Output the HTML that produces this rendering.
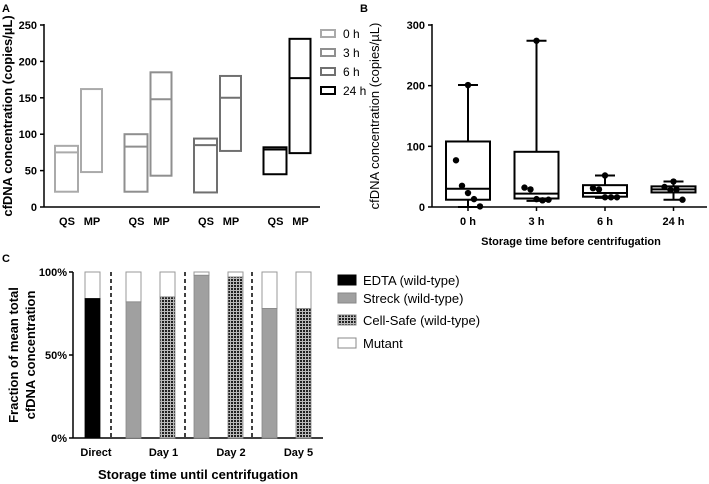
<!DOCTYPE html>
<html><head><meta charset="utf-8"><style>
html,body{margin:0;padding:0;background:#fff;}
svg{display:block;font-family:"Liberation Sans",Arial,sans-serif;}
.b{font-weight:bold;}
</style></head><body>
<svg id="s" width="709" height="484" viewBox="0 0 709 484" xmlns="http://www.w3.org/2000/svg">
<defs>
<pattern id="chk" width="3" height="3" patternUnits="userSpaceOnUse">
<rect width="3" height="3" fill="#bbb"/><rect width="2" height="2" fill="#222"/>
</pattern>
</defs>
<g id="A"></g>
<g id="B"></g>
<g id="C"></g>
</svg>
<script>
// Panel A data
const aGroups = ['0 h','3 h','6 h','24 h'];
const aQSmin = [21,21,20,45];
const aQSmax = [84,100,94,82];
const aQSmean = [75,83,85,79];
const aMPmin = [48,43,77,74];
const aMPmax = [162,185,180,231];
const aMPmean = [null,148,150,177];
const aTicks = [0,50,100,150,200,250];
// Panel B data
const bCats = ['0 h','3 h','6 h','24 h'];
const bMin = [0,10,15,12];
const bQ1 = [12,14,17,24];
const bMed = [30,22,23,29];
const bQ3 = [108,91,36,34];
const bMax = [201,274,52,42];
const bPoints = [[201,77,35,23,13,1],[274,32,29,13,11,12],[52,31,29,16,16,16],[42,33,28,29,12]];
const bTicks = [0,100,200,300];
// Panel C data
const cCats = ['Direct','Day 1','Day 2','Day 5'];
const cEdta = [84];
const cStreck = [82,98,78];
const cCellSafe = [85,97,78];
const cTicks = [0,50,100];
const cLegend = ['EDTA (wild-type)','Streck (wild-type)','Cell-Safe (wild-type)','Mutant'];

const NS='http://www.w3.org/2000/svg';
function mk(p,tag,attrs,txt){const e=document.createElementNS(NS,tag);for(const k in attrs)e.setAttribute(k,attrs[k]);if(txt!==undefined)e.textContent=txt;p.appendChild(e);return e;}

// ---- Panel A
const A=document.getElementById('A');
const ay=v=>207-v*(182/250);
let t=mk(A,'text',{x:2,y:12,'font-size':11,class:'b'},'A');
t=mk(A,'line',{x1:44,y1:24,x2:44,y2:207,stroke:'#000','stroke-width':1.5});
t=mk(A,'line',{x1:44,y1:207,x2:320,y2:207,stroke:'#000','stroke-width':1.5});
aTicks.forEach(v=>{mk(A,'line',{x1:40,x2:44,y1:ay(v),y2:ay(v),stroke:'#000','stroke-width':1.5});
 t=mk(A,'text',{x:37,y:ay(v)+4,'font-size':11,class:'b','text-anchor':'end'},v);});
t=mk(A,'text',{transform:'translate(12,116) rotate(-90)','font-size':13,class:'b','text-anchor':'middle'},'cfDNA concentration (copies/µL)');
const aCols=['#aaa','#8f8f8f','#707070','#000'];
aGroups.forEach((g,i)=>{
 const x0=55+i*69.5;
 const c=aCols[i];
 t=mk(A,'rect',{x:x0,y:ay(aQSmax[i]),width:23,height:ay(aQSmin[i])-ay(aQSmax[i]),fill:'none',stroke:c,'stroke-width':2});
 mk(A,'line',{x1:x0,x2:x0+23,y1:ay(aQSmean[i]),y2:ay(aQSmean[i]),stroke:c,'stroke-width':2});
 t=mk(A,'rect',{x:x0+26,y:ay(aMPmax[i]),width:21,height:ay(aMPmin[i])-ay(aMPmax[i]),fill:'none',stroke:c,'stroke-width':2});
 if(aMPmean[i]!==null)mk(A,'line',{x1:x0+26,x2:x0+47,y1:ay(aMPmean[i]),y2:ay(aMPmean[i]),stroke:c,'stroke-width':2});
 t=mk(A,'text',{x:x0+12,y:225,'font-size':11,class:'b','text-anchor':'middle'},'QS');
 t=mk(A,'text',{x:x0+37,y:225,'font-size':11,class:'b','text-anchor':'middle'},'MP');
 t=mk(A,'rect',{x:321,y:30+i*19,width:14,height:7,fill:'none',stroke:c,'stroke-width':2});
 t=mk(A,'text',{x:343,y:38+i*19,'font-size':12},g);
});

// ---- Panel B
const B=document.getElementById('B');
const by=v=>207-v*(182/300);
t=mk(B,'text',{x:360,y:12,'font-size':11,class:'b'},'B');
t=mk(B,'line',{x1:432,y1:24,x2:432,y2:207,stroke:'#000','stroke-width':1.5});
t=mk(B,'line',{x1:432,y1:207,x2:707,y2:207,stroke:'#000','stroke-width':1.5});
bTicks.forEach(v=>{mk(B,'line',{x1:428,x2:432,y1:by(v),y2:by(v),stroke:'#000','stroke-width':1.5});
 t=mk(B,'text',{x:425,y:by(v)+4,'font-size':11,class:'b','text-anchor':'end'},v);});
t=mk(B,'text',{transform:'translate(379,116) rotate(-90)','font-size':13,'text-anchor':'middle'},'cfDNA concentration (copies/µL)');
t=mk(B,'text',{x:571,y:245,'font-size':11,class:'b','text-anchor':'middle'},'Storage time before centrifugation');
bCats.forEach((c,i)=>{
 const cx=468+i*68.5;
 mk(B,'line',{x1:cx,x2:cx,y1:207,y2:211,stroke:'#000','stroke-width':1.5});
 t=mk(B,'text',{x:cx,y:225,'font-size':11,class:'b','text-anchor':'middle'},c);
 mk(B,'line',{x1:cx,x2:cx,y1:by(bMax[i]),y2:by(bMin[i]),stroke:'#000','stroke-width':2});
 mk(B,'line',{x1:cx-10,x2:cx+10,y1:by(bMax[i]),y2:by(bMax[i]),stroke:'#000','stroke-width':2});
 mk(B,'line',{x1:cx-10,x2:cx+10,y1:by(bMin[i]),y2:by(bMin[i]),stroke:'#000','stroke-width':2});
 t=mk(B,'rect',{x:cx-22,y:by(bQ3[i]),width:44,height:by(bQ1[i])-by(bQ3[i]),fill:'#fff',stroke:'#000','stroke-width':2});
 mk(B,'line',{x1:cx-22,x2:cx+22,y1:by(bMed[i]),y2:by(bMed[i]),stroke:'#000','stroke-width':2});
 const n=bPoints[i].length;
 bPoints[i].forEach((v,j)=>{const dx=(j===0)?0:((j-1)-(n-2)/2)*6;
  t=mk(B,'circle',{cx:cx+dx,cy:by(v),r:3.2,fill:'#000'});});
});

// ---- Panel C
const C=document.getElementById('C');
const cy=v=>438-v*(166/100);
t=mk(C,'text',{x:2,y:262,'font-size':11,class:'b'},'C');
t=mk(C,'line',{x1:73,y1:272,x2:73,y2:438,stroke:'#000','stroke-width':1.5});
t=mk(C,'line',{x1:73,y1:438,x2:323,y2:438,stroke:'#000','stroke-width':1.5});
cTicks.forEach(v=>{mk(C,'line',{x1:69,x2:73,y1:cy(v),y2:cy(v),stroke:'#000','stroke-width':1.5});
 t=mk(C,'text',{x:67,y:cy(v)+4,'font-size':11,class:'b','text-anchor':'end'},v+'%');});
t=mk(C,'text',{transform:'translate(18,355) rotate(-90)','font-size':13,class:'b','text-anchor':'middle'},'Fraction of mean total');
t=mk(C,'text',{transform:'translate(35,355) rotate(-90)','font-size':13,class:'b','text-anchor':'middle'},'cfDNA concentration');
t=mk(C,'text',{x:198,y:479,'font-size':13,class:'b','text-anchor':'middle'},'Storage time until centrifugation');
function cbar(x,v,fill,name){
 t=mk(C,'rect',{x:x,y:cy(100),width:15,height:cy(v)-cy(100),fill:'#fff',stroke:'#999','stroke-width':1});
 t=mk(C,'rect',{x:x,y:cy(v),width:15,height:438-cy(v),fill:fill,stroke:fill==='#000'?'#000':'#888','stroke-width':0.8});
}
cbar(85,cEdta[0],'#000','c-bar-edta');
cStreck.forEach((v,i)=>cbar(126+i*68,v,'#a0a0a0','c-bar-streck-'+i));
cCellSafe.forEach((v,i)=>cbar(160+i*68,v,'url(#chk)','c-bar-cellsafe-'+i));
[111,185,252].forEach(x=>{t=mk(C,'line',{x1:x,x2:x,y1:272,y2:438,stroke:'#000','stroke-width':1.5,'stroke-dasharray':'4,3'});});
cCats.forEach((c,i)=>{t=mk(C,'text',{x:96+i*67.5,y:456,'font-size':11,class:'b','text-anchor':'middle'},c);});
const lf=['#000','#a0a0a0','url(#chk)','#fff'];
cLegend.forEach((l,i)=>{const yy=[280,298,320,343][i];
 t=mk(C,'rect',{x:338,y:yy-5,width:18,height:10,fill:lf[i],stroke:i===0?'#000':'#888','stroke-width':1});
 t=mk(C,'text',{x:363,y:yy+5,'font-size':13},l);
});
</script>
</body></html>
